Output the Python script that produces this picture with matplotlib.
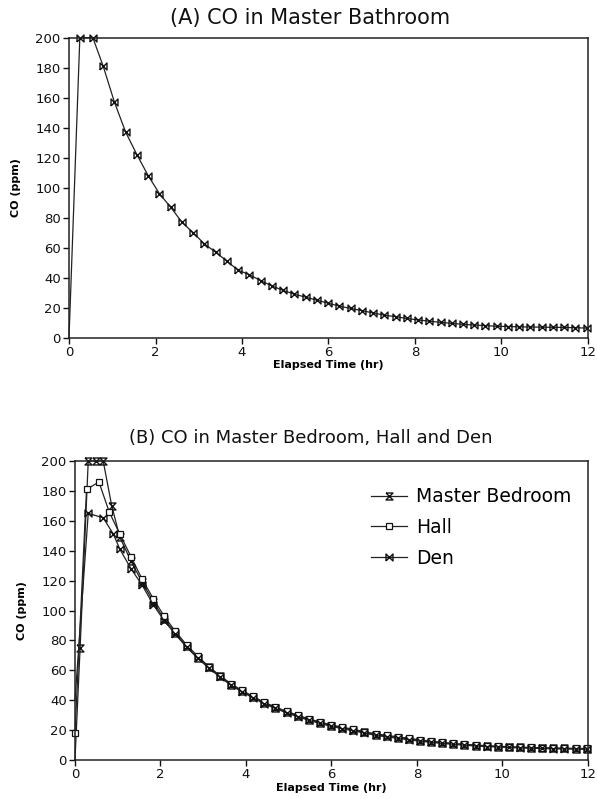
import numpy as np
import matplotlib
matplotlib.use("Agg")
import matplotlib.pyplot as plt
from matplotlib.path import Path

# ------------------------------------------------------------
# dados (CO em ppm x tempo decorrido em h)
# ------------------------------------------------------------
# (A) banheiro da suite
t_banheiro = [0.00, 0.25, 0.55, 0.79, 1.05, 1.31, 1.57, 1.83, 2.09, 2.35,
              2.61, 2.87, 3.13, 3.39, 3.65, 3.91, 4.17, 4.43, 4.69, 4.95,
              5.21, 5.47, 5.73, 5.99, 6.25, 6.51, 6.77, 7.03, 7.29, 7.55,
              7.81, 8.07, 8.33, 8.59, 8.85, 9.11, 9.37, 9.63, 9.89, 10.15,
              10.41, 10.67, 10.93, 11.19, 11.45, 11.71, 11.97]
co_banheiro = [0, 200, 200, 181, 157, 137, 122, 108, 96, 87,
               77, 70, 62.5, 57, 51, 45, 42, 38, 34.5, 31.5,
               29, 27, 25, 23, 21, 19.5, 18, 16.5, 15, 14,
               12.8, 11.8, 11, 10.2, 9.5, 8.9, 8.4, 8.0, 7.6, 7.4,
               7.2, 7.1, 7.0, 6.9, 6.8, 6.6, 6.4]

# grade comum da fase de decaimento (B)
t_decai = [1.05, 1.31, 1.57, 1.83, 2.09, 2.35, 2.61, 2.87, 3.13, 3.39,
           3.65, 3.91, 4.17, 4.43, 4.69, 4.95, 5.21, 5.47, 5.73, 5.99,
           6.25, 6.51, 6.77, 7.03, 7.29, 7.55, 7.81, 8.07, 8.33, 8.59,
           8.85, 9.11, 9.37, 9.63, 9.89, 10.15, 10.41, 10.67, 10.93, 11.19,
           11.45, 11.71, 11.97]

# (B) quarto da suite
t_quarto = [0.00, 0.12, 0.31, 0.50, 0.66, 0.86] + t_decai
co_quarto = [0, 75, 200, 200, 200, 170,
             149, 133, 119, 106, 94, 85, 76, 68.5, 62, 56,
             50.5, 46, 42, 38, 35, 32, 29.5, 27, 25, 23,
             21.5, 20, 18.5, 17, 16, 15, 14, 13, 12.2, 11.5,
             10.8, 10.2, 9.7, 9.3, 9.0, 8.7, 8.4, 8.2, 8.0, 7.8,
             7.7, 7.6, 7.5]

# (B) corredor
t_corredor = [0.00, 0.27, 0.56, 0.80] + t_decai
co_corredor = [18, 181, 186, 166,
               151, 136, 121, 108, 96, 86, 77, 69.5, 62.5, 56.5,
               51, 46.5, 42.5, 38.5, 35.5, 32.5, 30, 27.5, 25.5, 23.5,
               22, 20.5, 19, 17.5, 16.5, 15.5, 14.5, 13.5, 12.6, 11.8,
               11.1, 10.5, 10.0, 9.6, 9.2, 8.9, 8.6, 8.4, 8.2, 8.0,
               7.9, 7.8, 7.7]

# (B) escritorio
t_escritorio = [0.00, 0.31, 0.66, 0.90] + t_decai
co_escritorio = [40, 165, 162, 151,
                 141, 128, 117, 104, 93, 84, 75.5, 68, 61.5, 55.5,
                 50, 45.5, 41.5, 37.5, 34.5, 31.5, 29, 26.5, 24.5, 22.5,
                 21, 19.5, 18, 16.5, 15.5, 14.5, 13.5, 12.6, 11.8, 11.1,
                 10.5, 9.9, 9.4, 9.0, 8.7, 8.4, 8.1, 7.9, 7.7, 7.5,
                 7.4, 7.3, 7.2]

# ------------------------------------------------------------
# marcadores no estilo do grafico original
# ------------------------------------------------------------
gravata = Path([(-1, -1), (-1, 1), (1, -1), (1, 1), (-1, -1)])   # X com laterais
ampulheta = Path([(-1, 1), (1, 1), (-1, -1), (1, -1), (-1, 1)])  # X com topo/base

plt.rcParams['font.family'] = ['DejaVu Sans']

fig = plt.figure(figsize=(5.97, 7.99), dpi=100)
ax1 = fig.add_axes([0.1156, 0.5774, 0.8693, 0.3755])
ax2 = fig.add_axes([0.1256, 0.0488, 0.8593, 0.3742])


def estilo_eixo(ax):
    ax.set_xlim(0, 12)
    ax.set_ylim(0, 200)
    ax.set_xticks(np.arange(0, 13, 2))
    ax.set_yticks(np.arange(0, 201, 20))
    for s in ax.spines.values():
        s.set_linewidth(1.1)
        s.set_color('#222222')
    ax.tick_params(direction='out', length=4, width=1, pad=2,
                   labelsize=9.5, colors='#111111')
    ax.set_xlabel('Elapsed Time (hr)', fontsize=8, fontweight='bold', labelpad=1)
    ax.set_ylabel('CO (ppm)', fontsize=8, fontweight='bold', labelpad=10)


# (A)
ax1.plot(t_banheiro, co_banheiro, color='#222222', linewidth=0.9,
         marker=gravata, markersize=5, markerfacecolor='none',
         markeredgecolor='#111111', markeredgewidth=1.0, clip_on=False,
         markevery=slice(1, None))
estilo_eixo(ax1)
fig.text(0.52, 0.977, '(A) CO in Master Bathroom', ha='center', va='center',
         fontsize=15, color='#111111')

# (B)
ax2.plot(t_quarto, co_quarto, color='#222222', linewidth=0.9,
         marker=ampulheta, markersize=5, markerfacecolor='none',
         markeredgecolor='#111111', markeredgewidth=1.0, clip_on=False,
         markevery=slice(1, None), label='Master Bedroom')
ax2.plot(t_corredor, co_corredor, color='#222222', linewidth=0.9,
         marker='s', markersize=4.5, markerfacecolor='white',
         markeredgecolor='#111111', markeredgewidth=0.9, clip_on=False,
         label='Hall')
ax2.plot(t_escritorio, co_escritorio, color='#222222', linewidth=0.9,
         marker=gravata, markersize=5, markerfacecolor='none',
         markeredgecolor='#111111', markeredgewidth=1.0, clip_on=False,
         markevery=slice(1, None), label='Den')
estilo_eixo(ax2)
fig.text(0.521, 0.452, '(B) CO in Master Bedroom, Hall and Den', ha='center',
         va='center', fontsize=13, color='#111111')
ax2.legend(loc='upper left', bbox_to_anchor=(0.578, 0.912), frameon=False,
           fontsize=13.5, handlelength=1.9, handletextpad=0.5,
           labelspacing=0.62, borderpad=0, borderaxespad=0)

fig.savefig('out.png', dpi=100, facecolor='white')
